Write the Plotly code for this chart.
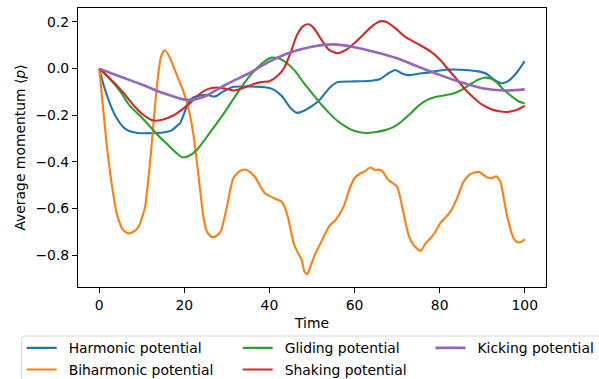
import plotly.graph_objects as go

# ---- data -----------------------------------------------------------------
t_harmonic = [0, 1, 2.5, 4, 5.5, 7, 9, 12, 15, 17, 18, 19, 20, 21, 22, 24, 25.5, 27.2, 29,
              31.5, 35, 39, 41, 43, 45, 46.5, 48, 50.3, 52, 54, 56, 60, 64, 66, 68, 69.6,
              71, 72.5, 75, 78, 80, 83, 86, 89, 91, 93, 94.5, 96, 98, 100]
p_harmonic = [0, -0.07, -0.15, -0.21, -0.248, -0.268, -0.276, -0.277, -0.274, -0.265, -0.25,
              -0.234, -0.19, -0.145, -0.125, -0.115, -0.113, -0.12, -0.1, -0.078, -0.077,
              -0.08, -0.09, -0.12, -0.17, -0.19, -0.182, -0.157, -0.13, -0.085, -0.058,
              -0.055, -0.052, -0.045, -0.02, -0.006, -0.02, -0.028, -0.022, -0.015, -0.008,
              -0.004, -0.006, -0.012, -0.022, -0.05, -0.063, -0.055, -0.02, 0.032]

t_biharmonic = [0, 0.8, 1.7, 2.8, 4.1, 5.5, 6.8, 8, 9.2, 10.2, 10.8, 11.5, 12.2, 12.9, 13.7,
                14.5, 15.4, 16.5, 18.2, 19.8, 21.3, 22.1, 22.8, 23.7, 24.5, 25.3, 26.4, 27.5,
                28.5, 29.3, 30, 30.8, 31.5, 33, 34.3, 35.5, 36.6, 38, 39, 41, 42.9, 43.7,
                44.5, 45.3, 46, 47.6, 48.2, 48.9, 49.6, 50.8, 52, 53.1, 54.3, 55.5, 57.4, 59,
                60, 61.3, 62.5, 63.7, 64.9, 65.6, 66.5, 68, 70, 71.2, 72.7, 74, 75.5, 76.7,
                77.8, 79, 80.2, 81.3, 82.5, 84, 85.6, 87.2, 89.2, 90.2, 91.2, 92.3, 93.3,
                94.3, 95.1, 95.9, 97.4, 98.4, 99.3, 100]
p_biharmonic = [0, -0.15, -0.32, -0.48, -0.62, -0.69, -0.707, -0.7, -0.68, -0.63, -0.59,
                -0.48, -0.35, -0.2, -0.05, 0.05, 0.08, 0.05, -0.027, -0.099, -0.199, -0.28,
                -0.38, -0.52, -0.64, -0.7, -0.722, -0.718, -0.7, -0.65, -0.593, -0.52, -0.47,
                -0.44, -0.433, -0.445, -0.465, -0.51, -0.536, -0.555, -0.572, -0.6, -0.65,
                -0.72, -0.765, -0.822, -0.87, -0.882, -0.85, -0.793, -0.75, -0.707, -0.67,
                -0.65, -0.593, -0.507, -0.47, -0.45, -0.44, -0.424, -0.436, -0.433, -0.44,
                -0.479, -0.507, -0.593, -0.714, -0.76, -0.782, -0.75, -0.729, -0.7, -0.662,
                -0.64, -0.615, -0.56, -0.486, -0.453, -0.443, -0.455, -0.467, -0.47, -0.462,
                -0.486, -0.56, -0.636, -0.729, -0.746, -0.742, -0.733]

t_gliding = [0, 2.5, 5, 7.2, 10, 12, 14, 16, 18, 19.5, 21, 23, 25, 27, 29, 31, 33, 35, 37, 39,
             40.5, 42, 44, 46, 48, 50, 52, 54, 56, 58, 60, 62.5, 65, 67, 69, 71, 73, 75, 77,
             79, 81, 83, 85, 87, 89, 90.5, 92, 93.5, 95, 97, 98.5, 100]
p_gliding = [0, -0.045, -0.1, -0.16, -0.21, -0.25, -0.29, -0.325, -0.36, -0.38, -0.375, -0.348,
             -0.3, -0.25, -0.2, -0.145, -0.09, -0.04, 0.0, 0.033, 0.047, 0.045, 0.025, -0.01,
             -0.06, -0.105, -0.15, -0.19, -0.225, -0.25, -0.268, -0.276, -0.272, -0.265,
             -0.252, -0.228, -0.195, -0.16, -0.135, -0.122, -0.115, -0.108, -0.093, -0.07,
             -0.048, -0.039, -0.043, -0.06, -0.09, -0.12, -0.14, -0.15]

t_shaking = [0, 2.5, 5.5, 8, 10.4, 12.7, 15, 17.5, 19.5, 21.5, 23.5, 25.5, 27.5, 29.5, 31.5,
             33.5, 36, 38, 40, 42, 43.5, 45, 46.5, 48, 49.2, 50.5, 52, 54, 56, 58, 60, 62, 64,
             66, 67.5, 69.5, 72, 75, 78, 80, 82, 84, 86, 88, 90, 92, 94, 96, 98, 100]
p_shaking = [0, -0.042, -0.1, -0.156, -0.199, -0.223, -0.218, -0.2, -0.175, -0.145, -0.11,
             -0.088, -0.081, -0.086, -0.094, -0.085, -0.068, -0.058, -0.054, -0.03, 0.005,
             0.07, 0.145, 0.183, 0.19, 0.172, 0.13, 0.08, 0.066, 0.08, 0.11, 0.145, 0.18,
             0.203, 0.2, 0.175, 0.135, 0.105, 0.072, 0.04, -0.003, -0.045, -0.09, -0.125,
             -0.155, -0.173, -0.183, -0.186, -0.178, -0.16]

t_kicking = [0, 5, 10, 15, 20, 22.5, 25, 30, 35, 40, 45, 50, 55, 60, 65, 70, 75, 80, 85, 90,
             95, 100]
p_kicking = [0, -0.035, -0.068, -0.105, -0.133, -0.132, -0.118, -0.066, -0.022, 0.03, 0.07,
             0.094, 0.104, 0.092, 0.07, 0.044, 0.008, -0.027, -0.059, -0.084, -0.094, -0.089]

x_ticks = [0, 20, 40, 60, 80, 100]
y_ticks = [-0.8, -0.6, -0.4, -0.2, 0.0, 0.2]

# ---- figure geometry (pixels) -------------------------------------------------
W, H = 599, 379
L, R, T, B = 78, 546, 8, 287          # plot-area edges
PW, PH = R - L, B - T


def px_x(x):
    return (x - L) / PW


def px_y(y):
    return (B - y) / PH


FONT = "DejaVu Sans"
FS = 13.9

series = [
    ("Harmonic potential", t_harmonic, p_harmonic, "#1f77b4", 2.1, "legend", 26.7, 348.3),
    ("Biharmonic potential", t_biharmonic, p_biharmonic, "#ff7f0e", 2.1, "legend2", 26.7, 370.0),
    ("Gliding potential", t_gliding, p_gliding, "#2ca02c", 2.1, "legend3", 242.7, 348.3),
    ("Shaking potential", t_shaking, p_shaking, "#d62728", 2.1, "legend4", 242.7, 370.0),
    ("Kicking potential", t_kicking, p_kicking, "#9467bd", 2.6, "legend5", 435.5, 348.3),
]

fig = go.Figure()
legends = {}
for name, t, p, color, lw, lg, lx, ly in series:
    fig.add_trace(go.Scatter(
        x=t, y=p, mode="lines", name="\u2002" + name,
        line=dict(color=color, width=lw, shape="spline", smoothing=0.6),
        legend=lg,
    ))
    legends[lg] = dict(
        x=px_x(lx - 5), y=px_y(ly), xanchor="left", yanchor="middle",
        xref="paper", yref="paper", bgcolor="rgba(0,0,0,0)", borderwidth=0,
        font=dict(family=FONT, size=FS, color="#000"),
        itemclick=False, itemdoubleclick=False,
    )

# legend frame with a rounded top-left corner
r = 2.8
x0, x1 = px_x(21.7), px_x(640)
y0, y1 = px_y(336), px_y(420)
rx, ry = r / PW, r / PH
frame = (f"M{x0},{y1} L{x0},{y0 - ry} Q{x0},{y0} {x0 + rx},{y0} "
         f"L{x1},{y0} L{x1},{y1}")

axis_common = dict(
    showgrid=False, zeroline=False, showline=True, linecolor="#000", linewidth=1.1,
    mirror=True, ticks="outside", ticklen=5, tickwidth=1.1, tickcolor="#000",
    tickfont=dict(family=FONT, size=FS, color="#000"),
    title_font=dict(family=FONT, size=FS, color="#000"),
)

fig.update_layout(
    width=W, height=H,
    # fixed margins: the outside legends must not shrink the plot area
    margin=dict(l=L, r=W - R, t=T, b=H - B, pad=0, autoexpand=False),
    paper_bgcolor="white", plot_bgcolor="white",
    showlegend=True,
    xaxis=dict(range=[-5, 105], tickvals=x_ticks, title=dict(text="Time", standoff=6),
               **axis_common),
    yaxis=dict(range=[-0.937, 0.26], tickvals=y_ticks, tickformat=".1f",
               title=dict(text="Average momentum \u27e8<i>p</i>\u27e9", standoff=6),
               **axis_common),
    shapes=[dict(type="path", path=frame, xref="paper", yref="paper",
                 line=dict(color="#d6d6d6", width=1), layer="above")],
    **legends,
)

fig.write_html("out.html")
